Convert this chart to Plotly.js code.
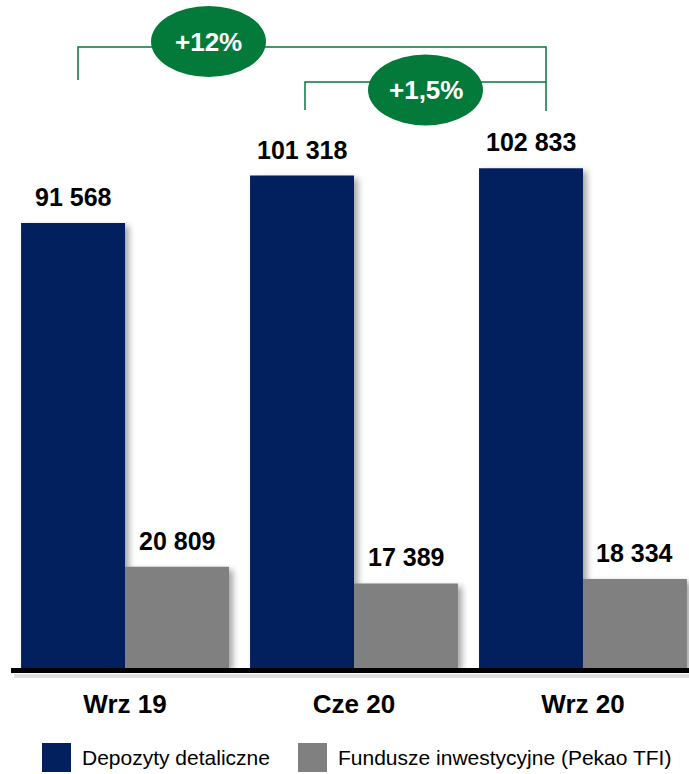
<!DOCTYPE html>
<html>
<head>
<meta charset="utf-8">
<script src="https://cdn.plot.ly/plotly-3.0.1.min.js"></script>
<style>
  html, body { margin: 0; padding: 0; background: #fff; }
  #chart { width: 689px; height: 774px; }
  #chart .barlayer .point path { filter: drop-shadow(4px 3px 3px rgba(0,0,0,0.35)); }
</style>
</head>
<body>
<div id="chart"></div>
<script>
// ---- data ----
var categories = ['Wrz 19', 'Cze 20', 'Wrz 20'];
var deposits = [91568, 101318, 102833];
var funds = [20809, 17389, 18334];
var seriesNames = ['Depozyty detaliczne', 'Fundusze inwestycyjne (Pekao TFI)'];
var growthLabels = ['+12%', '+1,5%'];

// ---- style ----
var NAVY = '#02205e';
var GRAY = '#808080';
var GREEN = '#037a3a';
var FONT = 'Liberation Sans, Arial, sans-serif';

var W = 689, H = 774;
var mL = 11, mR = 0, mT = 0, mB = 106;
var plotW = W - mL - mR, plotH = H - mT - mB;
function px(x) { return (x - mL) / plotW; }
function py(y) { return (H - mB - y) / plotH; }

function fmt(v) {
  return String(v).replace(/\B(?=(\d{3})+(?!\d))/g, ' ');
}

var traces = [
  { type: 'bar', name: seriesNames[0], x: categories, y: deposits,
    marker: { color: NAVY }, showlegend: false, hoverinfo: 'none' },
  { type: 'bar', name: seriesNames[1], x: categories, y: funds,
    marker: { color: GRAY }, showlegend: false, hoverinfo: 'none' }
];

var annotations = [];
var barHalf = 52;
categories.forEach(function (c, i) {
  annotations.push({ x: c, y: deposits[i], xref: 'x', yref: 'y', xshift: -barHalf,
    yanchor: 'bottom', yshift: 10, showarrow: false, text: '<b>' + fmt(deposits[i]) + '</b>',
    font: { family: FONT, size: 25, color: '#000' } });
  annotations.push({ x: c, y: funds[i], xref: 'x', yref: 'y', xshift: barHalf,
    yanchor: 'bottom', yshift: 10, showarrow: false, text: '<b>' + fmt(funds[i]) + '</b>',
    font: { family: FONT, size: 25, color: '#000' } });
});

var shapes = [];
// soft shadow under baseline
shapes.push({ type: 'line', xref: 'paper', yref: 'paper', x0: px(14), x1: 1, y0: py(676), y1: py(676),
  line: { color: 'rgba(0,0,0,0.12)', width: 4 }, layer: 'below' });

// growth ellipses and brackets
var lineStyle = { color: GREEN, width: 1.5 };
shapes.push({ type: 'path', xref: 'paper', yref: 'paper',
  path: 'M ' + px(78) + ' ' + py(80) + ' L ' + px(78) + ' ' + py(47) + ' L ' + px(546) + ' ' + py(47) + ' L ' + px(546) + ' ' + py(111),
  line: lineStyle });
shapes.push({ type: 'path', xref: 'paper', yref: 'paper',
  path: 'M ' + px(305) + ' ' + py(110) + ' L ' + px(305) + ' ' + py(82) + ' L ' + px(546) + ' ' + py(82),
  line: lineStyle });
var ellipses = [[208.5, 41.5], [425.5, 90]];
ellipses.forEach(function (e, i) {
  shapes.push({ type: 'circle', xref: 'paper', yref: 'paper',
    x0: px(e[0] - 57.5), x1: px(e[0] + 57.5), y0: py(e[1] + 35.5), y1: py(e[1] - 35.5),
    fillcolor: GREEN, line: { width: 0 } });
  annotations.push({ xref: 'paper', yref: 'paper', x: px(e[0]), y: py(e[1]),
    xanchor: 'center', yanchor: 'middle', showarrow: false,
    text: '<b>' + growthLabels[i] + '</b>', font: { family: FONT, size: 26, color: '#fff' } });
});

// legend (custom, large squares)
var legendItems = [[42, NAVY, seriesNames[0]], [298, GRAY, seriesNames[1]]];
legendItems.forEach(function (it) {
  shapes.push({ type: 'rect', xref: 'paper', yref: 'paper',
    x0: px(it[0]), x1: px(it[0] + 29), y0: py(772), y1: py(743),
    fillcolor: it[1], line: { width: 0 } });
  annotations.push({ xref: 'paper', yref: 'paper', x: px(it[0] + 38), y: py(758),
    xanchor: 'left', yanchor: 'middle', showarrow: false, text: it[2],
    font: { family: FONT, size: 21, color: '#000' } });
});

var layout = {
  width: W, height: H,
  margin: { l: mL, r: mR, t: mT, b: mB, pad: 0 },
  paper_bgcolor: '#fff', plot_bgcolor: '#fff',
  barmode: 'group', bargap: 0.092, bargroupgap: 0,
  showlegend: false,
  xaxis: { type: 'category', range: [-0.498, 2.463], showgrid: false, zeroline: false,
    showline: true, linecolor: '#000', linewidth: 5, ticks: '', ticklen: 0,
    tickfont: { family: FONT, size: 26, color: '#000' }, ticklabelstandoff: 9,
    tickprefix: '<b>', ticksuffix: '</b>', fixedrange: true },
  yaxis: { range: [0, 137449], visible: false, showgrid: false, zeroline: false, fixedrange: true },
  shapes: shapes,
  annotations: annotations,
  font: { family: FONT }
};

Plotly.newPlot('chart', traces, layout, { staticPlot: true, displayModeBar: false });
</script>
</body>
</html>
